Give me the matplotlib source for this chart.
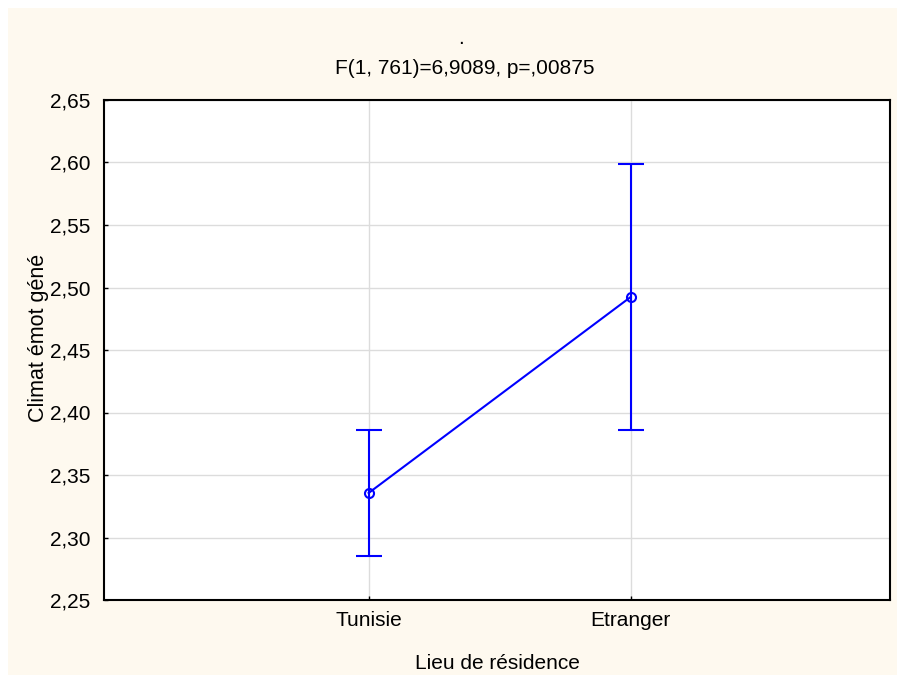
import matplotlib
matplotlib.use("Agg")
import matplotlib.pyplot as plt
from matplotlib.patches import Rectangle
from matplotlib.ticker import FuncFormatter

# Données
categories = ["Tunisie", "Etranger"]
moyennes = [2.3356, 2.4924]
borne_inf = [2.285, 2.386]
borne_sup = [2.386, 2.5988]
yticks = [2.25, 2.30, 2.35, 2.40, 2.45, 2.50, 2.55, 2.60, 2.65]

plt.rcParams["font.family"] = ["Liberation Sans", "DejaVu Sans"]

fig = plt.figure(figsize=(9.04, 6.81), dpi=100, facecolor="white")
# fond crème avec une bordure blanche
fig.patches.append(Rectangle((8 / 904, 6 / 681), 889 / 904, 667 / 681,
                             transform=fig.transFigure, facecolor="#FEF9EF",
                             edgecolor="none", zorder=-10))

ax = fig.add_axes([104 / 904, 81 / 681, 786 / 904, 500 / 681])
ax.set_facecolor("white")

x = list(range(len(categories)))
err_bas = [m - b for m, b in zip(moyennes, borne_inf)]
err_haut = [b - m for m, b in zip(moyennes, borne_sup)]
ax.errorbar(x, moyennes, yerr=[err_bas, err_haut], color="#0000FF", lw=1.5,
            marker="o", markersize=6.5, markerfacecolor="none", markeredgewidth=1.5,
            capsize=9.5, capthick=1.5, zorder=3)

ax.set_xlim(-1.01, 1.99)
ax.set_ylim(2.25, 2.65)
ax.set_xticks(x)
ax.set_xticklabels(categories)
ax.set_yticks(yticks)
ax.yaxis.set_major_formatter(FuncFormatter(lambda v, p: f"{v:.2f}".replace(".", ",")))
ax.grid(True, color="#DCDCDC", lw=1)
ax.set_axisbelow(True)
ax.tick_params(axis="both", labelsize=15, length=3, width=1, direction="in",
               colors="black")
ax.tick_params(axis="y", pad=10)
ax.tick_params(axis="x", pad=8)
for s in ax.spines.values():
    s.set_linewidth(1.5)
    s.set_color("black")

ax.set_xlabel("Lieu de résidence", fontsize=15, labelpad=17)
ax.set_ylabel("Climat émot géné", fontsize=15.5)
ax.yaxis.set_label_coords(-0.07, 0.524)
fig.text(461 / 904, 1 - 38 / 681, ".", ha="center", va="center", fontsize=15)
fig.text(465 / 904, 1 - 69 / 681, "F(1, 761)=6,9089, p=,00875", ha="center",
         va="center", fontsize=15)

fig.savefig("out.png", dpi=100, facecolor=fig.get_facecolor())
